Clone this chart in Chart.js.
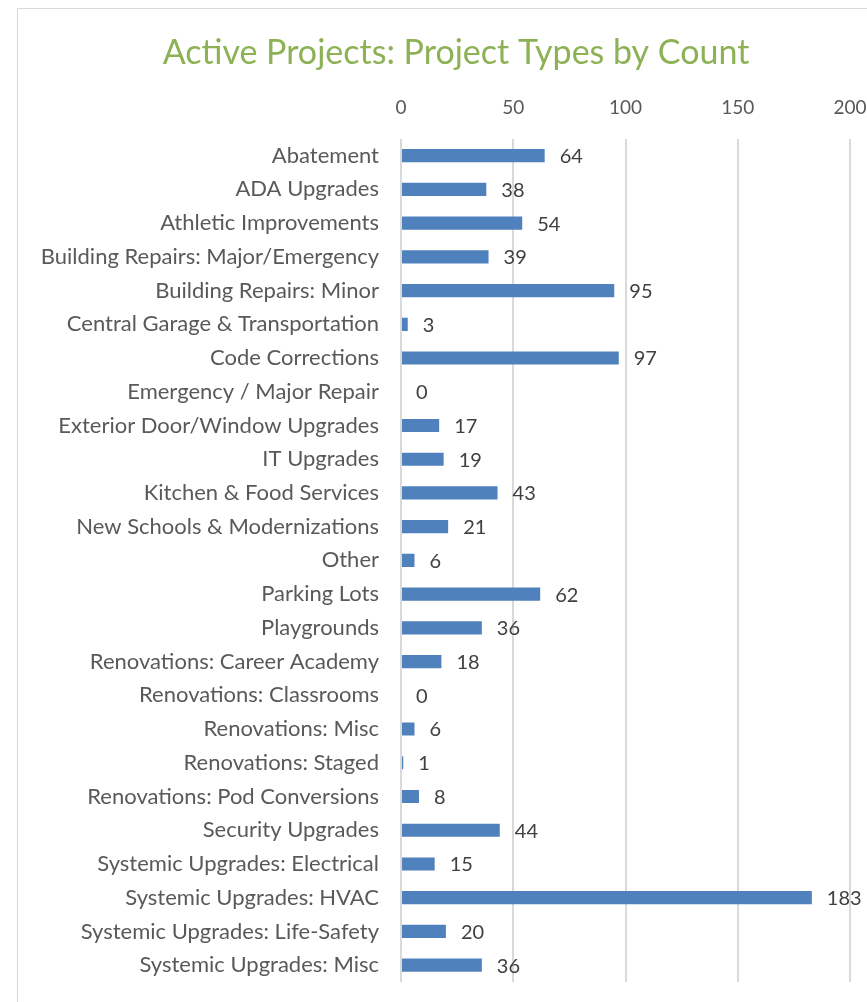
<!DOCTYPE html>
<html><head><meta charset="utf-8">
<script src="https://cdn.jsdelivr.net/npm/chart.js@4"></script>
<style>
html,body{margin:0;padding:0;background:#fff;overflow:hidden;width:867px;height:1002px;}
#frame{position:absolute;left:17px;top:8px;width:1000px;height:1100px;border:1px solid #d9d9d9;box-sizing:border-box;}
#c{position:absolute;left:0;top:0;}
</style></head>
<body>
<div id="frame"></div>
<canvas id="c" width="900" height="1002"></canvas>
<script>
const categories = ["Abatement","ADA Upgrades","Athletic Improvements","Building Repairs: Major/Emergency","Building Repairs: Minor","Central Garage & Transportation","Code Corrections","Emergency / Major Repair","Exterior Door/Window Upgrades","IT Upgrades","Kitchen & Food Services","New Schools & Modernizations","Other","Parking Lots","Playgrounds","Renovations: Career Academy","Renovations: Classrooms","Renovations: Misc","Renovations: Staged","Renovations: Pod Conversions","Security Upgrades","Systemic Upgrades: Electrical","Systemic Upgrades: HVAC","Systemic Upgrades: Life-Safety","Systemic Upgrades: Misc"];
const counts = [64,38,54,39,95,3,97,0,17,19,43,21,6,62,36,18,0,6,1,8,44,15,183,20,36];
const xTicks = [0,50,100,150,200];

const FONT = "Lato, 'Open Sans', sans-serif";

const valueLabels = {
  id: 'valueLabels',
  afterLayout(chart) {
    // shift the title box so it is centred like the reference
    if (chart.titleBlock) { chart.titleBlock.left += 62; }
  },
  afterDatasetsDraw(chart) {
    const ctx = chart.ctx;
    const meta = chart.getDatasetMeta(0);
    ctx.save();
    ctx.font = "20px " + FONT;
    ctx.fillStyle = '#404040';
    ctx.textBaseline = 'middle';
    ctx.textAlign = 'left';
    meta.data.forEach((bar, i) => {
      ctx.fillText(String(counts[i]), bar.x + 15, bar.y + 1);
    });
    ctx.restore();
  }
};

new Chart(document.getElementById('c'), {
  type: 'bar',
  data: {
    labels: categories,
    datasets: [{
      data: counts,
      backgroundColor: '#4F81BD',
      borderWidth: 0,
      barPercentage: 0.78,
      categoryPercentage: 0.5
    }]
  },
  options: {
    indexAxis: 'y',
    responsive: false,
    animation: false,
    layout: { padding: { left: 0, right: 50, bottom: 20, top: 0 } },
    plugins: {
      legend: { display: false },
      tooltip: { enabled: false },
      title: {
        display: true,
        text: 'Active Projects: Project Types by Count',
        color: '#8DB255',
        font: { family: FONT, size: 34, weight: 'normal' },
        padding: { top: 33, bottom: 10 },
        align: 'center'
      }
    },
    scales: {
      x: {
        position: 'top',
        min: 0, max: 200,
        afterBuildTicks(s) { s.ticks = xTicks.map(v => ({ value: v })); },
        afterFit(s) { s.height = 55; },
        grid: { color: '#d9d9d9', lineWidth: 2, drawTicks: false },
        border: { display: false },
        ticks: { color: '#595959', font: { family: FONT, size: 19 }, padding: 20 }
      },
      y: {
        afterFit(s) { s.width = 401; s.paddingTop = 0; s.paddingBottom = 0; },
        grid: { display: false, drawTicks: false },
        border: { display: false },
        ticks: { color: '#595959', font: { family: FONT, size: 22 }, padding: 22, autoSkip: false }
      }
    }
  },
  plugins: [valueLabels]
});
</script>
</body></html>
